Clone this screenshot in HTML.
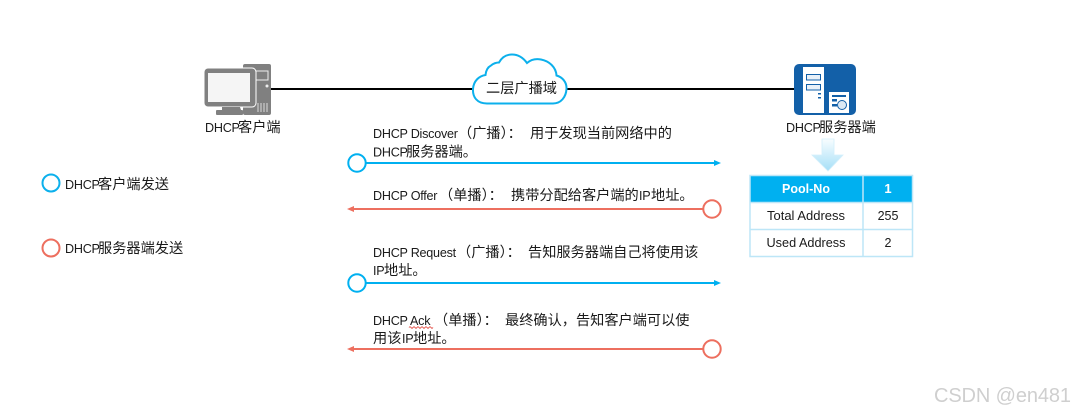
<!DOCTYPE html>
<html>
<head>
<meta charset="utf-8">
<style>
html,body{margin:0;padding:0;background:#fff;width:1075px;height:411px;overflow:hidden}
svg{display:block}
text{font-family:"Liberation Sans","Noto Sans CJK SC",sans-serif;font-size:12.600px;letter-spacing:-0.25px;fill:#1a1a1a}
.c{font-size:14.2px;letter-spacing:0}
.t{font-size:12.500px;letter-spacing:0}
</style>
</head>
<body>
<svg width="1075" height="411" viewBox="0 0 1075 411">
<defs>
<linearGradient id="g" x1="0" y1="0" x2="0" y2="1"><stop offset="0" stop-color="#f8fdff"/><stop offset="1" stop-color="#a5dff7"/></linearGradient>
</defs>
<!-- main line -->
<path d="M270 89H474M566 89H795" stroke="#000" stroke-width="2" fill="none"/>
<!-- computer -->
<rect x="243" y="64" width="28" height="51" rx="2" fill="#808080"/>
<rect x="255" y="71" width="13" height="9" fill="#808080" stroke="#eee" stroke-width="1"/>
<circle cx="267" cy="86" r="1.500" fill="#eee"/>
<path d="M258 103v9M261 103v9M264 103v9M267 103v9" stroke="#ddd" stroke-width="1"/>
<rect x="204" y="68" width="52" height="39" rx="4" fill="#808080" stroke="#fff" stroke-width="1"/>
<rect x="208" y="73" width="42" height="29" fill="#f5f5f5"/>
<path d="M222 107h18l1 3h-19z" fill="#808080"/>
<rect x="216" y="110" width="27" height="5" rx="1" fill="#808080"/>
<text y="132"><tspan x="205">DHCP</tspan><tspan x="238" class="c">客户端</tspan></text>
<!-- cloud -->
<path d="M487 103.500C477 103.500 472.500 97 473 89C473.500 81 479 76 485.500 75C486 70 488 67 491 65.500C494 63 497 62.500 499 62.500C502 57 506 54.500 512 54.500C518 54.500 523 57.500 527 63C531 59.500 536 58.500 541 59.500C549 61 556 67 556.500 75.500C562 77 567 82 566.500 89C566 97 561 103.500 553 103.500Z" fill="#fff" stroke="#0cb0ec" stroke-width="2"/>
<text x="486" y="93" style="font-size:14.2px;letter-spacing:0">二层广播域</text>
<!-- server -->
<rect x="794" y="64" width="62" height="51" rx="5" fill="#1360a8"/>
<rect x="803" y="67" width="21" height="46" fill="#fff"/>
<rect x="806.500" y="74.500" width="14" height="5.500" fill="#e8f0f8" stroke="#1360a8"/>
<rect x="806.500" y="84.500" width="14" height="5.500" fill="#e8f0f8" stroke="#1360a8"/>
<rect x="818" y="93" width="3" height="1.500" fill="#1360a8"/>
<rect x="818" y="97" width="3" height="1.500" fill="#1360a8"/>
<rect x="829" y="92" width="20" height="21" fill="#fff"/>
<rect x="832" y="95" width="14" height="2" fill="#1360a8"/>
<rect x="832" y="99" width="5" height="2.500" fill="#1360a8"/>
<rect x="832" y="104" width="5" height="2.500" fill="#1360a8"/>
<circle cx="842" cy="105" r="4.500" fill="#dce9f4" stroke="#1360a8" stroke-width="1"/>
<text y="132"><tspan x="786">DHCP</tspan><tspan x="819" class="c">服务器端</tspan></text>
<!-- down arrow -->
<path d="M822 139H834V155H843L828 171L812 155H822Z" fill="url(#g)" stroke="#d3effb" stroke-width="0.800"/>
<!-- table -->
<rect x="750" y="176" width="163" height="26" fill="#00b0f0"/>
<g fill="none" stroke="#bde6f7" stroke-width="1.500">
<rect x="750" y="175.500" width="162.500" height="81"/>
<path d="M750 202.500H912.500M750 229.500H912.500M863 175.500V256.500"/>
</g>
<text x="806" y="193" text-anchor="middle" textLength="48" lengthAdjust="spacingAndGlyphs" style="fill:#fff;font-weight:bold;font-size:13px;letter-spacing:0">Pool-No</text>
<text x="888" y="193" text-anchor="middle" style="fill:#fff;font-weight:bold;font-size:13px;letter-spacing:0">1</text>
<text x="806" y="220" text-anchor="middle" textLength="78" lengthAdjust="spacingAndGlyphs" class="t">Total Address</text>
<text x="888" y="220" text-anchor="middle" class="t">255</text>
<text x="806" y="247" text-anchor="middle" textLength="79" lengthAdjust="spacingAndGlyphs" class="t">Used Address</text>
<text x="888" y="247" text-anchor="middle" class="t">2</text>
<!-- message 1 -->
<text y="138"><tspan x="373">DHCP Discover</tspan><tspan x="458" class="c">（广播）：</tspan><tspan x="530" class="c">用于发现当前网络中的</tspan></text>
<text y="156.500"><tspan x="373">DHCP</tspan><tspan x="406" class="c">服务器端。</tspan></text>
<path d="M365 163H716" stroke="#00b0f0" stroke-width="2"/>
<path d="M721 163L714 160V166Z" fill="#00b0f0"/>
<circle cx="357" cy="163" r="8.700" fill="#fff" stroke="#00b0f0" stroke-width="2"/>
<!-- message 2 -->
<text y="200"><tspan x="373">DHCP Offer</tspan><tspan x="439" class="c">（单播）：</tspan><tspan x="511" class="c">携带分配给客户端的</tspan><tspan x="639">IP</tspan><tspan x="651" class="c">地址。</tspan></text>
<path d="M352 209H703" stroke="#ed6f5f" stroke-width="2"/>
<path d="M347 209L354 206V212Z" fill="#ed6f5f"/>
<circle cx="712" cy="209" r="8.700" fill="#fff" stroke="#ed6f5f" stroke-width="2"/>
<!-- message 3 -->
<text y="257"><tspan x="373">DHCP Request</tspan><tspan x="457" class="c">（广播）：</tspan><tspan x="528" class="c">告知服务器端自己将使用该</tspan></text>
<text y="275"><tspan x="373">IP</tspan><tspan x="384" class="c">地址。</tspan></text>
<path d="M365 283H716" stroke="#00b0f0" stroke-width="2"/>
<path d="M721 283L714 280V286Z" fill="#00b0f0"/>
<circle cx="357" cy="283" r="8.700" fill="#fff" stroke="#00b0f0" stroke-width="2"/>
<!-- message 4 -->
<text y="325"><tspan x="373">DHCP Ack</tspan><tspan x="434" class="c">（单播）：</tspan><tspan x="505" class="c">最终确认，告知客户端可以使</tspan></text>
<path d="M409 327.500q1 -1.500 2 0t2 0t2 0t2 0t2 0t2 0t2 0t2 0t2 0t2 0t2 0t2 0" stroke="#e0352b" stroke-width="0.800" fill="none"/>
<text y="343"><tspan x="373" class="c">用该</tspan><tspan x="402">IP</tspan><tspan x="413" class="c">地址。</tspan></text>
<path d="M352 349H703" stroke="#ed6f5f" stroke-width="2"/>
<path d="M347 349L354 346V352Z" fill="#ed6f5f"/>
<circle cx="712" cy="349" r="8.700" fill="#fff" stroke="#ed6f5f" stroke-width="2"/>
<!-- legend -->
<circle cx="51" cy="183" r="8.500" fill="#fff" stroke="#0cb0ec" stroke-width="2"/>
<text y="189"><tspan x="65">DHCP</tspan><tspan x="98" class="c">客户端发送</tspan></text>
<circle cx="51" cy="248" r="8.500" fill="#fff" stroke="#ed6f5f" stroke-width="2"/>
<text y="253"><tspan x="65">DHCP</tspan><tspan x="98" class="c">服务器端发送</tspan></text>
<!-- watermark -->
<text x="934" y="402" textLength="137" lengthAdjust="spacing" style="font-size:20px;fill:#cfcfcf;letter-spacing:0">CSDN @en481</text>
</svg>
</body>
</html>
